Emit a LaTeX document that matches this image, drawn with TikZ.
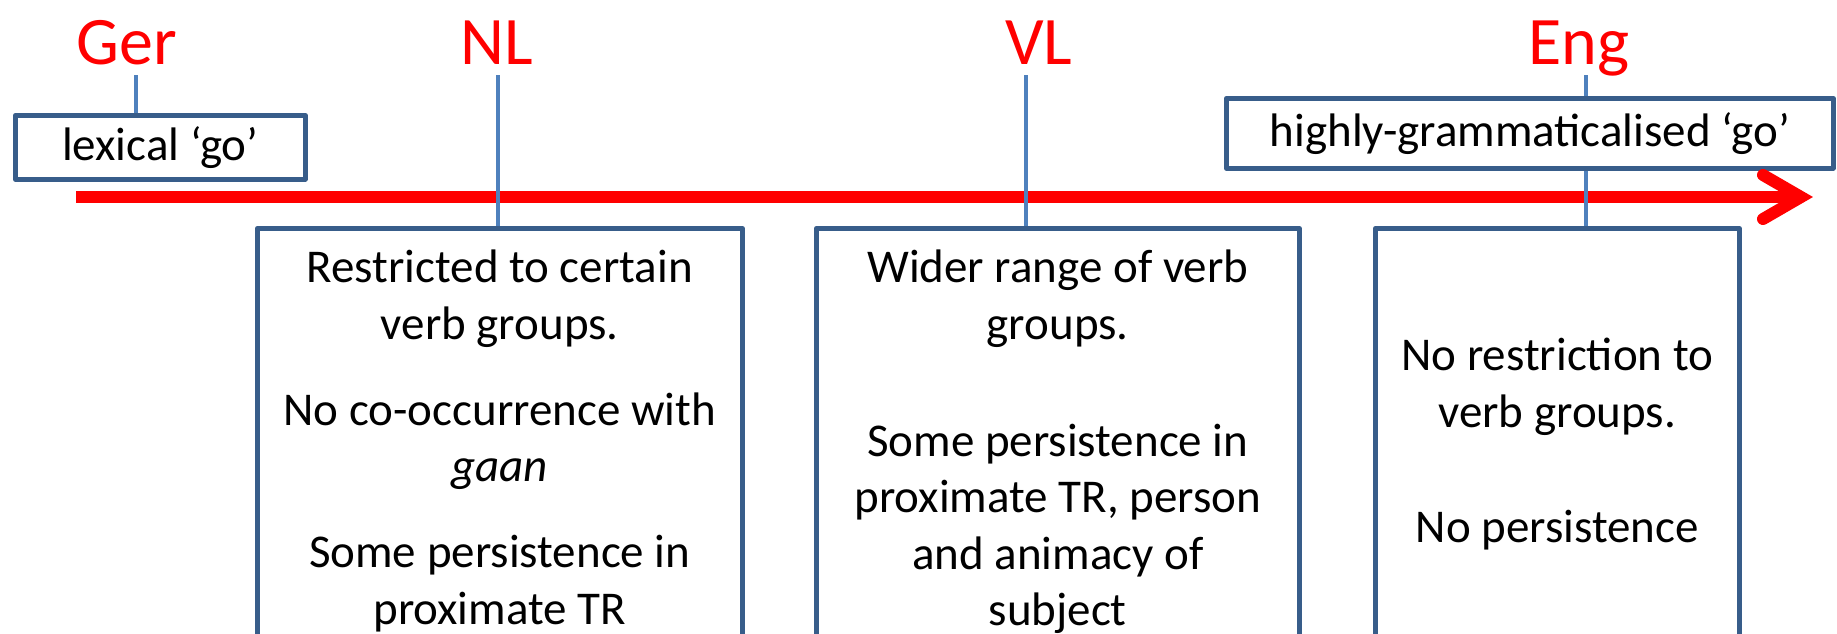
\documentclass[tikz,border=0pt]{standalone}
\usepackage{fontspec}
\setmainfont{Carlito}
\definecolor{boxblue}{HTML}{385D8A}
\definecolor{tickblue}{HTML}{4F81BD}
\definecolor{timered}{HTML}{FF0000}
\begin{document}
\begin{tikzpicture}[x=0.5pt,y=-0.5pt,
  lang/.style={text=timered,inner sep=0pt,anchor=base,
    font=\fontsize{34pt}{40pt}\selectfont},
  tick/.style={draw=tickblue,line width=2.4pt},
  stagebox/.style={draw=boxblue,line width=2.25pt,line join=round,fill=white,inner sep=0pt,
    anchor=north west,font=\fontsize{23.5pt}{28.25pt}\selectfont},
  stagetext/.style={inner sep=0pt,anchor=north,align=center,
    font=\fontsize{23.5pt}{28.25pt}\selectfont},
  timeline/.style={draw=timered,line width=6pt}]
\useasboundingbox (0,0) rectangle (1837,633);
\clip (0,0) rectangle (1837,633);

% language labels
\node[lang] (ger) at (127,64) {Ger};
\node[lang] (nl)  at (497,64) {NL};
\node[lang] (vl)  at (1039,64) {VL};
\node[lang] (eng) at (1579,64) {Eng};

% tick tops
\coordinate (gert) at (136,75);
\coordinate (nlt)  at (498,75);
\coordinate (vlt)  at (1026,75);
\coordinate (engt) at (1586,75);

% end-point boxes
\node[stagebox,minimum width=145pt,minimum height=32pt] (lex) at (13,113) {lexical ‘go’};
\node[stagebox,minimum width=303.5pt,minimum height=35pt] (high) at (1224,96) {highly-grammaticalised ‘go’};

% timeline with open arrow head
\coordinate (tstart) at (76,197);
\coordinate (ttip) at (1801,197);
\draw[timeline] (tstart) -- (ttip);
\draw[timeline,line cap=round,line join=miter] ([shift={(-38,-22)}]ttip) -- (ttip) -- ([shift={(-38,22)}]ttip);

% stage boxes
\node[stagebox,minimum width=242.5pt,minimum height=212pt] (nlbox) at (255,226) {};
\node[stagebox,minimum width=241.5pt,minimum height=212pt] (vlbox) at (814,226) {};
\node[stagebox,minimum width=182pt,minimum height=212pt] (engbox) at (1373,226) {};

% ticks
\draw[tick] (gert) -- (gert |- lex.north);
\draw[tick] (nlt) -- (nlt |- nlbox.north);
\draw[tick] (vlt) -- (vlt |- vlbox.north);
\draw[tick] (engt) -- (engt |- high.north);
\draw[tick] (engt |- high.south) -- (engt |- engbox.north);

% box texts
\node[stagetext] (nltext) at ([yshift=-8.5pt]nlbox.north) {\strut Restricted to certain\\verb groups.\\[14.75pt]No co-occurrence with\\\textit{gaan}\\[14.75pt]Some persistence in\\proximate TR};
\node[stagetext] (vltext) at ([yshift=-8.5pt]vlbox.north) {\strut Wider range of verb\\groups.\\[30.25pt]Some persistence in\\proximate TR, person\\and animacy of\\subject};
\node[stagetext] (engtext) at ([yshift=-52.5pt]engbox.north) {\strut No restriction to\\verb groups.\\[29.25pt]No persistence};
\end{tikzpicture}
\end{document}
